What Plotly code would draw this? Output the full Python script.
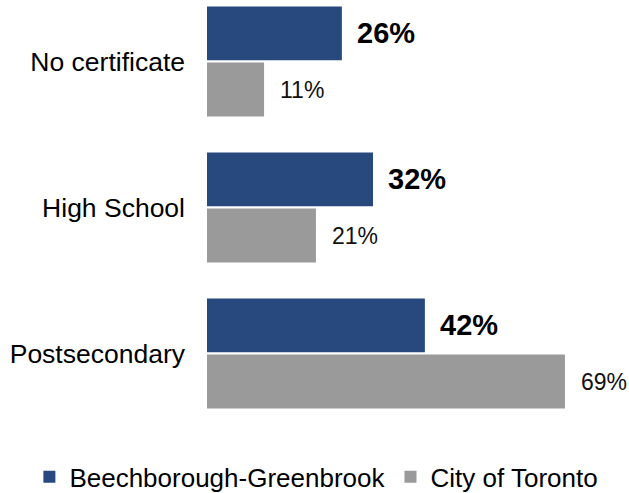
import plotly.graph_objects as go

categories = ["No certificate", "High School", "Postsecondary"]
beech = [26, 32, 42]
toronto = [11, 21, 69]
series_names = ["Beechborough-Greenbrook", "City of Toronto"]

blue = "#27497d"
grey = "#9a9a9a"
FONT = "Liberation Sans, Arial, sans-serif"

fig = go.Figure()
fig.add_trace(go.Bar(y=categories, x=beech, orientation="h", name=series_names[0],
                     marker=dict(color=blue, line=dict(width=0))))
fig.add_trace(go.Bar(y=categories, x=toronto, orientation="h", name=series_names[1],
                     marker=dict(color=grey, line=dict(width=0))))

annotations = []
for i, c in enumerate(categories):
    annotations.append(dict(x=beech[i], y=i - 0.193, xref="x", yref="y", text=f"<b>{beech[i]}%</b>",
                            showarrow=False, xanchor="left", xshift=13,
                            font=dict(size=29, color="#000", family=FONT)))
    annotations.append(dict(x=toronto[i], y=i + 0.193, xref="x", yref="y", text=f"{toronto[i]}%",
                            showarrow=False, xanchor="left", xshift=14,
                            font=dict(size=23, color="#111", family=FONT)))

fig.update_layout(
    width=629, height=493,
    margin=dict(l=207, r=7, t=0, b=63, autoexpand=False),
    paper_bgcolor="white", plot_bgcolor="white",
    barmode="group", bargap=0.23, bargroupgap=0.04,
    font=dict(family=FONT, color="#000", size=26),
    showlegend=True,
    legend=dict(orientation="h", x=-0.428, xanchor="left",
                y=-0.109, yanchor="middle",
                font=dict(size=26), itemwidth=30, traceorder="normal"),
    annotations=annotations,
)
fig.update_xaxes(range=[0, 80], showgrid=False, showticklabels=False, zeroline=False,
                 showline=False, ticks="", automargin=False)
fig.update_yaxes(type="category", range=[2.524, -0.421], showgrid=False, zeroline=False,
                 showline=False, ticks="", ticklabelstandoff=21, tickfont=dict(size=26.5),
                 automargin=False)

fig.write_html("out.html", config={"displayModeBar": False},
               post_script="document.body.style.margin='0';document.body.style.overflow='hidden';")
